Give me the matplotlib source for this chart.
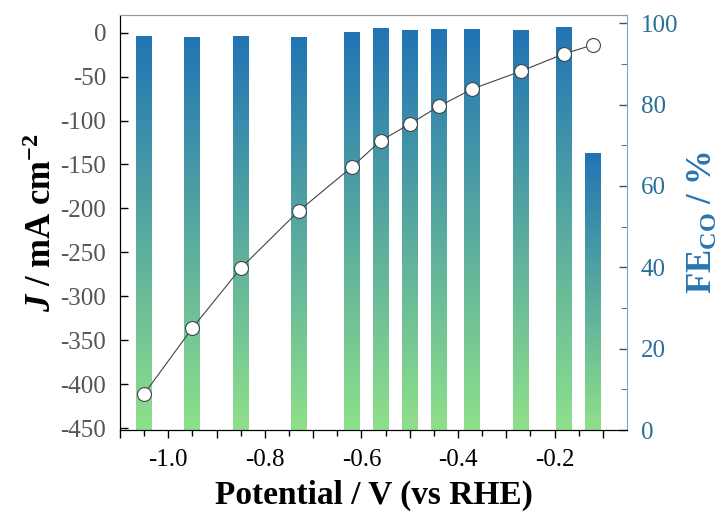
import numpy as np
import matplotlib.pyplot as plt
from matplotlib.colors import LinearSegmentedColormap
from matplotlib.patches import Rectangle

plt.rcParams['font.family'] = ['Liberation Serif', 'DejaVu Serif']
plt.rcParams['axes.unicode_minus'] = False
plt.rcParams['mathtext.fontset'] = 'custom'
plt.rcParams['mathtext.rm'] = 'Liberation Serif:bold'
plt.rcParams['mathtext.it'] = 'Liberation Serif:italic:bold'
plt.rcParams['mathtext.bf'] = 'Liberation Serif:bold'

# potential (V vs RHE), current density and CO faradaic efficiency
potential = [-1.05, -0.95, -0.85, -0.73, -0.62, -0.56, -0.50, -0.44, -0.37, -0.27, -0.18, -0.12]
j_total = [-411, -336, -268, -203, -153, -123, -104, -84, -64, -44, -24, -14]
fe_co = [96.8, 96.6, 96.8, 96.6, 97.8, 98.9, 98.3, 98.5, 98.5, 98.3, 99.1, 68.0]

bar_w = 0.033
blue = '#2a6f96'
cmap = LinearSegmentedColormap.from_list('gb', ['#8fe08a', '#2174b4'])

fig = plt.figure(figsize=(7.21, 5.14), dpi=100)
ax = fig.add_axes([0.1664, 0.1634, 0.7032, 0.8074])
ax2 = ax.twinx()

# gradient bars, each shaded from its own bottom to top
grad = np.linspace(0, 1, 256).reshape(-1, 1)
for x, fe in zip(potential, fe_co):
    im = ax2.imshow(grad, cmap=cmap, origin='lower', aspect='auto',
                    extent=[x - bar_w / 2, x + bar_w / 2, 0, fe], zorder=1)
    rect = Rectangle((x - bar_w / 2, 0), bar_w, fe, transform=ax2.transData,
                     facecolor='none', edgecolor='none')
    ax2.add_patch(rect)
    im.set_clip_path(rect)

ax.plot(potential, j_total, '-', color='#444444', lw=0.8, marker='o', ms=10,
        mfc='white', mec='#444444', mew=0.8, zorder=5)

ax.set_zorder(ax2.get_zorder() + 1)
ax.patch.set_visible(False)

ax.set_xlim(-1.1, -0.05)
ax.set_ylim(-452, 20)
ax2.set_ylim(0, 102)

xt = np.arange(-1.1, -0.05, 0.1)
ax.set_xticks(xt)
ax.set_xticklabels(['' if i % 2 == 0 else f'{v:.1f}' for i, v in enumerate(xt)])
ax.set_xticks(np.arange(-1.05, -0.05, 0.1), minor=True)
ax.set_yticks(np.arange(-450, 1, 50))
ax2.set_yticks(np.arange(0, 101, 20))
ax2.set_yticks(np.arange(10, 100, 20), minor=True)

ax.tick_params(axis='x', direction='out', length=6, width=1, labelsize=18, pad=8)
ax.tick_params(axis='x', which='minor', direction='out', length=4, width=1)
ax.tick_params(axis='y', direction='in', length=6, width=1, labelsize=18,
               labelcolor='#555555', pad=10)
ax2.tick_params(axis='y', direction='in', length=6, width=1, labelsize=18,
                labelcolor=blue, color='#44515e', pad=10)
ax2.tick_params(axis='y', which='minor', direction='in', length=4, color='#44515e')

ax.spines['top'].set_color('#999999')
ax2.spines['top'].set_color('#999999')
ax2.spines['right'].set_color('#7aa6cf')
ax.spines['right'].set_visible(False)

ax.set_xlabel('Potential / V (vs RHE)', fontsize=24, fontweight='bold', labelpad=6)
ax.set_ylabel(r'$\mathit{J}$ / mA cm$^{-2}$', fontsize=25, fontweight='bold', labelpad=1)
ax2.set_ylabel(r'FE$_{\mathrm{CO}}$ / %', fontsize=25, fontweight='bold',
               color='#2a75b0', labelpad=6)

fig.savefig('out.png', dpi=100)
